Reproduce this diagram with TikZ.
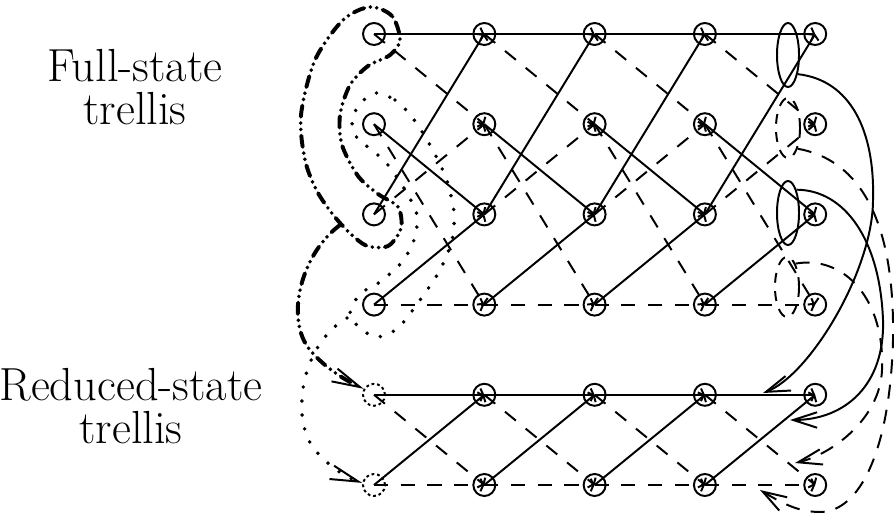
\documentclass[tikz,border=0pt]{standalone}
\usepackage{fontspec}
\usepackage{tikz}
\usetikzlibrary{arrows.meta,shapes.geometric}

\begin{document}
\begin{tikzpicture}[x=0.025cm,y=-0.025cm]
\tikzstyle{etat}=[draw,circle,line width=1.4pt,minimum size=0.55cm,inner sep=0pt]
\tikzstyle{etatvide}=[etat,dash pattern=on 2pt off 2pt]
\tikzstyle{pleine}=[line width=1.4pt,-{Straight Barb[length=2pt,width=9pt]}]
\tikzstyle{tiret}=[pleine,dash pattern=on 10pt off 9pt]
\tikzstyle{ovale}=[draw,ellipse,line width=1.4pt,inner sep=0pt,minimum width=0.55cm,minimum height=1.6cm]
\tikzstyle{ovaletiret}=[ovale,dash pattern=on 7pt off 6pt,minimum width=0.6cm,minimum height=1.5cm]
\tikzstyle{fleche}=[line width=1.4pt,-{Straight Barb[length=17pt,width=11pt]}]
\tikzstyle{flechetiret}=[fleche,dash pattern=on 10pt off 8pt]
\tikzstyle{pointille}=[line width=2.8pt,line cap=round,dash pattern=on 0pt off 10pt]
\tikzstyle{mixte}=[line width=2.8pt,line cap=round,dash pattern=on 8pt off 4.5pt on 0pt off 4.5pt on 0pt off 4.5pt]
\tikzstyle{pointe}=[-{Straight Barb[length=20pt,width=10pt,line width=1.4pt]}]
\tikzstyle{texte}=[align=center,font=\fontsize{33}{31}\selectfont]
\useasboundingbox (0,0) rectangle (894,517);
\def\DistanceInterNiveaux{90.2}
\def\DistanceInterEtapes{110.3}
\def\NiveauA{34+(0)*\DistanceInterNiveaux}
\def\NiveauB{34+(1)*\DistanceInterNiveaux}
\def\NiveauC{34+(2)*\DistanceInterNiveaux}
\def\NiveauD{34+(3)*\DistanceInterNiveaux}
\def\NiveauE{34+(4)*\DistanceInterNiveaux}
\def\NiveauF{34+(5)*\DistanceInterNiveaux}
\def\EtapeA{374+(0)*\DistanceInterEtapes}
\def\EtapeB{374+(1)*\DistanceInterEtapes}
\def\EtapeC{374+(2)*\DistanceInterEtapes}
\def\EtapeD{374+(3)*\DistanceInterEtapes}
\def\EtapeE{374+(4)*\DistanceInterEtapes}
% branches d'une etape, treillis complet puis reduit
\def\BranchesCompletes#1#2{
\draw[pleine] (#10.center)--(#20.center);
\draw[tiret] (#10.center)--(#21.center);
\draw[pleine] (#11.center)--(#22.center);
\draw[tiret] (#11.center)--(#23.center);
\draw[pleine] (#12.center)--(#20.center);
\draw[tiret] (#12.center)--(#21.center);
\draw[pleine] (#13.center)--(#22.center);
\draw[tiret] (#13.center)--(#23.center);
}
\def\BranchesReduites#1#2{
\draw[pleine] (#10.center)--(#20.center);
\draw[tiret] (#10.center)--(#21.center);
\draw[pleine] (#11.center)--(#20.center);
\draw[tiret] (#11.center)--(#21.center);
}
\node[texte] (TexteComplet) at (135,87) {Full-state\\trellis};
\node[texte] (TexteReduit) at (131,406) {Reduced-state\\trellis};
% treillis complet
\node[etat] (Ea0) at ({\EtapeA},{\NiveauA}) {};
\node[etat] (Ea1) at ({\EtapeA},{\NiveauB}) {};
\node[etat] (Ea2) at ({\EtapeA},{\NiveauC}) {};
\node[etat] (Ea3) at ({\EtapeA},{\NiveauD}) {};
\node[etat] (Eb0) at ({\EtapeB},{\NiveauA}) {};
\node[etat] (Eb1) at ({\EtapeB},{\NiveauB}) {};
\node[etat] (Eb2) at ({\EtapeB},{\NiveauC}) {};
\node[etat] (Eb3) at ({\EtapeB},{\NiveauD}) {};
\node[etat] (Ec0) at ({\EtapeC},{\NiveauA}) {};
\node[etat] (Ec1) at ({\EtapeC},{\NiveauB}) {};
\node[etat] (Ec2) at ({\EtapeC},{\NiveauC}) {};
\node[etat] (Ec3) at ({\EtapeC},{\NiveauD}) {};
\node[etat] (Ed0) at ({\EtapeD},{\NiveauA}) {};
\node[etat] (Ed1) at ({\EtapeD},{\NiveauB}) {};
\node[etat] (Ed2) at ({\EtapeD},{\NiveauC}) {};
\node[etat] (Ed3) at ({\EtapeD},{\NiveauD}) {};
\node[etat] (Ee0) at ({\EtapeE},{\NiveauA}) {};
\node[etat] (Ee1) at ({\EtapeE},{\NiveauB}) {};
\node[etat] (Ee2) at ({\EtapeE},{\NiveauC}) {};
\node[etat] (Ee3) at ({\EtapeE},{\NiveauD}) {};
% treillis reduit
\node[etatvide] (Ra0) at ({\EtapeA},{\NiveauE}) {};
\node[etatvide] (Ra1) at ({\EtapeA},{\NiveauF}) {};
\node[etat] (Rb0) at ({\EtapeB},{\NiveauE}) {};
\node[etat] (Rb1) at ({\EtapeB},{\NiveauF}) {};
\node[etat] (Rc0) at ({\EtapeC},{\NiveauE}) {};
\node[etat] (Rc1) at ({\EtapeC},{\NiveauF}) {};
\node[etat] (Rd0) at ({\EtapeD},{\NiveauE}) {};
\node[etat] (Rd1) at ({\EtapeD},{\NiveauF}) {};
\node[etat] (Re0) at ({\EtapeE},{\NiveauE}) {};
\node[etat] (Re1) at ({\EtapeE},{\NiveauF}) {};
\BranchesCompletes{Ea}{Eb}
\BranchesCompletes{Eb}{Ec}
\BranchesCompletes{Ec}{Ed}
\BranchesCompletes{Ed}{Ee}
\BranchesReduites{Ra}{Rb}
\BranchesReduites{Rb}{Rc}
\BranchesReduites{Rc}{Rd}
\BranchesReduites{Rd}{Re}
% regroupement des branches de la derniere etape
\node[ovale] (Oa) at (788,55) {};
\node[ovale] (Ob) at (788,213) {};
\node[ovaletiret] (Oc) at (788,128) {};
\node[ovaletiret] (Od) at (787,287) {};
\coordinate (PointeA) at (763,393);
\coordinate (PointeB) at (790,420);
\coordinate (PointeC) at (795,463);
\coordinate (PointeD) at (760,490);
\draw[fleche] (Oa.-63) .. controls (850,80) and (875,130) .. (873,200)
  .. controls (873,270) and (810,375) .. (PointeA);
\draw[fleche] (Ob.70) .. controls (845,190) and (880,240) .. (883,320)
  .. controls (885,385) and (845,420) .. (PointeB);
\draw[flechetiret] (Oc.-65) .. controls (860,160) and (895,220) .. (893,340)
  .. controls (890,450) and (860,512) .. (820,512)
  .. controls (800,512) and (785,505) .. (PointeD);
\draw[flechetiret] (Od.70) .. controls (845,255) and (885,300) .. (882,370)
  .. controls (880,420) and (830,455) .. (PointeC);
% etats 0 et 2 fusionnes
\draw[mixte] plot[smooth cycle] coordinates {(400,40) (392,16) (370,7) (343,20)
  (315,60) (301,115) (305,160) (318,193) (340,223) (365,245) (388,246) (401,228)
  (398,207) (378,194) (358,176) (342,145) (340,115) (350,85) (368,66) (390,55)};
\coordinate (DepartMixte) at (340,225);
\draw[mixte,pointe] (DepartMixte) .. controls (300,255) and (285,320) .. (310,350)
  .. controls (325,368) and (345,380) .. (Ra0.150);
% etats 1 et 3 fusionnes
\draw[pointille] plot[smooth cycle] coordinates {(375,93) (395,100) (412,117)
  (430,145) (446,178) (454,212) (452,240) (440,270) (420,300) (398,328) (377,337)
  (360,328) (350,314) (360,294) (380,282) (402,262) (414,240) (417,215) (405,190)
  (388,165) (372,150) (357,138) (352,120) (360,104)};
\coordinate (DepartPointille) at (347,318);
\draw[pointille,pointe] (DepartPointille) .. controls (300,345) and (290,420) .. (315,450)
  .. controls (330,468) and (348,478) .. (Ra1.170);
\end{tikzpicture}
\end{document}
